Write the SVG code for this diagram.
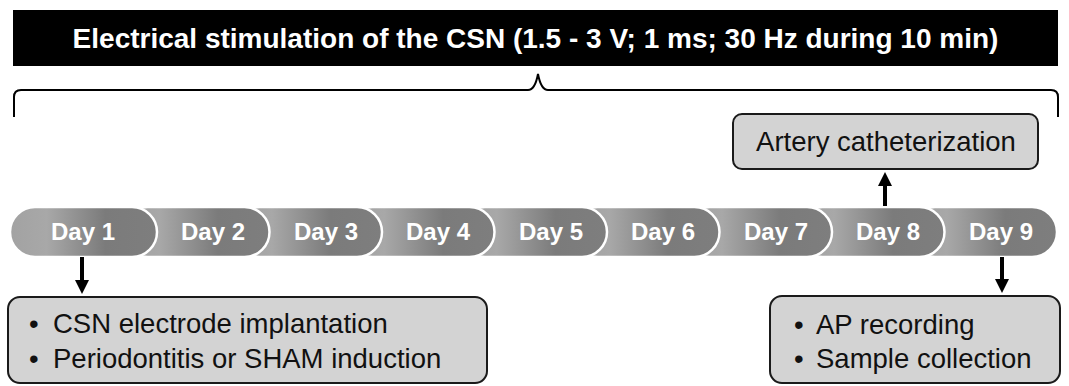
<svg xmlns="http://www.w3.org/2000/svg" width="1069" height="386" viewBox="0 0 1069 386">
<style>
.banner-text{font-family:"Liberation Sans",Arial,sans-serif;font-weight:bold;font-size:28px;fill:#fff}
.day{stroke:#fff;stroke-width:2.5;fill:url(#pillGrad)}
.day-text{font-family:"Liberation Sans",Arial,sans-serif;font-weight:bold;font-size:24px;fill:#fff;text-anchor:middle}
.box{fill:#d3d3d3;stroke:#1a1a1a;stroke-width:2}
.box-text{font-family:"Liberation Sans",Arial,sans-serif;font-size:27.5px;fill:#111}
.conn{stroke:#000;stroke-width:4;fill:none}
.brace{stroke:#000;stroke-width:2;fill:none}
</style>
<defs>
<linearGradient id="pillGrad" x1="0" y1="0" x2="1" y2="0">
<stop offset="0" stop-color="#a2a2a2"/>
<stop offset="0.25" stop-color="#a8a8a8"/>
<stop offset="0.65" stop-color="#7b7b7b"/>
<stop offset="1" stop-color="#7e7e7e"/>
</linearGradient>
<marker id="arrow" viewBox="0 0 14 14" markerWidth="14" markerHeight="14" markerUnits="userSpaceOnUse" refX="0" refY="7" orient="auto">
<path d="M0,0 L14,7 L0,14 z" fill="#000"/>
</marker>
</defs>
<rect width="1069" height="386" fill="#fff"/>

<g id="banner">
<rect x="13" y="10" width="1045" height="56" fill="#000"/>
<text class="banner-text" x="535.5" y="48" text-anchor="middle">Electrical stimulation of the CSN (1.5 - 3 V; 1 ms; 30 Hz during 10 min)</text>
</g>

<g id="brace">
<path class="brace" d="M14 117 V97 Q14 90 21 90 H528 Q535 90 538 74 Q541 90 548 90 H1051 Q1058 90 1058 97 V117"/>
</g>

<g id="timeline">
<g id="day9"><rect class="day" x="910" y="207" width="147" height="50" rx="25"/><text class="day-text" x="1001" y="240">Day 9</text></g>
<g id="day8"><rect class="day" x="797.5" y="207" width="147" height="50" rx="25"/><text class="day-text" x="888" y="240">Day 8</text></g>
<g id="day7"><rect class="day" x="685" y="207" width="147" height="50" rx="25"/><text class="day-text" x="776" y="240">Day 7</text></g>
<g id="day6"><rect class="day" x="572.5" y="207" width="147" height="50" rx="25"/><text class="day-text" x="663" y="240">Day 6</text></g>
<g id="day5"><rect class="day" x="460" y="207" width="147" height="50" rx="25"/><text class="day-text" x="551" y="240">Day 5</text></g>
<g id="day4"><rect class="day" x="347.5" y="207" width="147" height="50" rx="25"/><text class="day-text" x="438" y="240">Day 4</text></g>
<g id="day3"><rect class="day" x="235" y="207" width="147" height="50" rx="25"/><text class="day-text" x="326" y="240">Day 3</text></g>
<g id="day2"><rect class="day" x="122.5" y="207" width="147" height="50" rx="25"/><text class="day-text" x="213" y="240">Day 2</text></g>
<g id="day1"><rect class="day" x="10" y="207" width="147" height="50" rx="25"/><text class="day-text" x="83" y="240">Day 1</text></g>
</g>

<g id="artery">
<rect class="box" x="733" y="114" width="305" height="55" rx="9"/>
<text class="box-text" x="886" y="151" text-anchor="middle">Artery catheterization</text>
</g>

<g id="surgery">
<rect class="box" x="8" y="297" width="479" height="86" rx="12"/>
<text class="box-text" y="333"><tspan x="29">•</tspan><tspan x="53">CSN electrode implantation</tspan></text>
<text class="box-text" y="368"><tspan x="29">•</tspan><tspan x="53">Periodontitis or SHAM induction</tspan></text>
</g>

<g id="recording">
<rect class="box" x="770" y="296" width="290" height="87" rx="12"/>
<text class="box-text" y="334"><tspan x="794">•</tspan><tspan x="816">AP recording</tspan></text>
<text class="box-text" y="368"><tspan x="794">•</tspan><tspan x="816">Sample collection</tspan></text>
</g>

<g id="connectors">
<path class="conn" d="M82 257 V280" marker-end="url(#arrow)"/>
<path class="conn" d="M1002 257 V279" marker-end="url(#arrow)"/>
<path class="conn" d="M885 206 V186" marker-end="url(#arrow)"/>
</g>
</svg>
